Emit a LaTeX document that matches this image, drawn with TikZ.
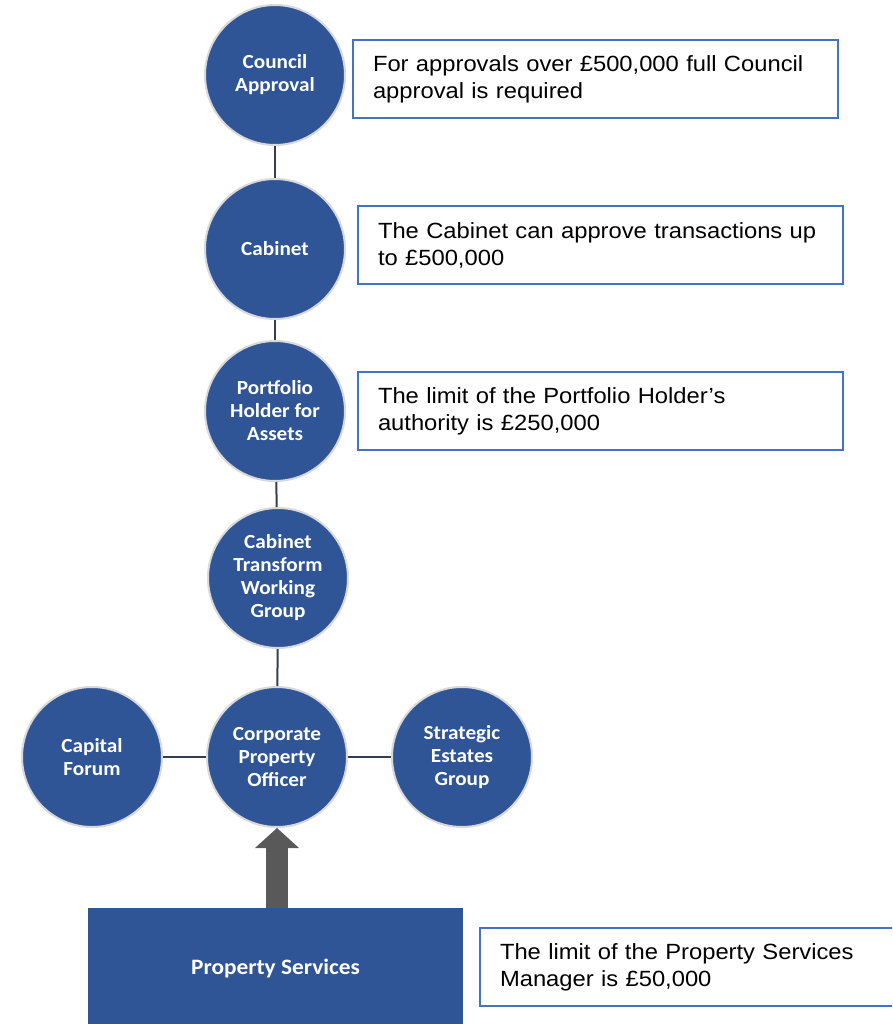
\documentclass[tikz,border=0pt]{standalone}
\usepackage{fontspec}
\setmainfont{Liberation Sans}[FakeStretch=1.08]
\newfontfamily\circfont{Carlito}[FakeStretch=1.06]
\usetikzlibrary{arrows.meta}
\definecolor{nodeblue}{HTML}{2F5597}
\definecolor{boxblue}{HTML}{4472C4}
\definecolor{linkgrey}{HTML}{333F50}
\definecolor{arrowgrey}{HTML}{595959}
\definecolor{rimgrey}{HTML}{D9D9D9}
\tikzset{
  level/.style={circle,fill=nodeblue,draw=rimgrey,line width=2pt,minimum size=140pt,inner sep=0pt,
    text=white,align=center,font=\circfont\bfseries\fontsize{20}{23}\selectfont},
  note/.style={draw=boxblue,line width=1.8pt,fill=white,minimum height=78pt,text width=445pt,
    inner xsep=20pt,align=left,font=\fontsize{22}{27}\selectfont},
  link/.style={draw=linkgrey,line width=2pt}
}
\begin{document}
\begin{tikzpicture}[x=1pt,y=-1pt]
    \useasboundingbox (0,0) rectangle (892,1024);
    \clip (0,0) rectangle (892,1024);
    % approval levels
    \node[level] (council) at (275,75) {Council\\Approval};
    \node[level] (cabinet) at (275,249) {Cabinet};
    \node[level] (portfolio) at (275,411) {Portfolio\\Holder for\\Assets};
    \node[level] (ctwg) at (278,578) {Cabinet\\Transform\\Working\\Group};
    \node[level] (cpo) at (277,757) {Corporate\\Property\\Officer};
    \node[level] (capital) at (92,757) {Capital\\Forum};
    \node[level] (seg) at (462,757) {Strategic\\Estates\\Group};
    \draw[link] (council)--(cabinet);
    \draw[link] (cabinet)--(portfolio);
    \draw[link] (portfolio)--(ctwg);
    \draw[link] (ctwg)--(cpo);
    \draw[link] (capital)--(cpo);
    \draw[link] (cpo)--(seg);
    % notes
    \node[note] (limitcouncil) at (595.5,79) {For approvals over £500,000 full Council\\approval is required};
    \node[note] (limitcabinet) at (600.5,245) {The Cabinet can approve transactions up\\to £500,000};
    \node[note] (limitportfolio) at (600.5,411) {The limit of the Portfolio Holder’s\\authority is £250,000};
    \node[note,text width=377pt] (limitps) at (688.5,967) {The limit of the Property Services\\Manager is £50,000};
    % property services
    \node[fill=nodeblue,minimum width=375pt,minimum height=120pt,text=white,
      font=\circfont\bfseries\fontsize{22}{26}\selectfont] (ps) at (275.5,968) {Property Services};
    \draw[arrowgrey,line width=22pt,-{Triangle[width=44pt,length=20pt,line width=0pt]}] (ps.north -| cpo) -- (cpo.south);
\end{tikzpicture}
\end{document}
